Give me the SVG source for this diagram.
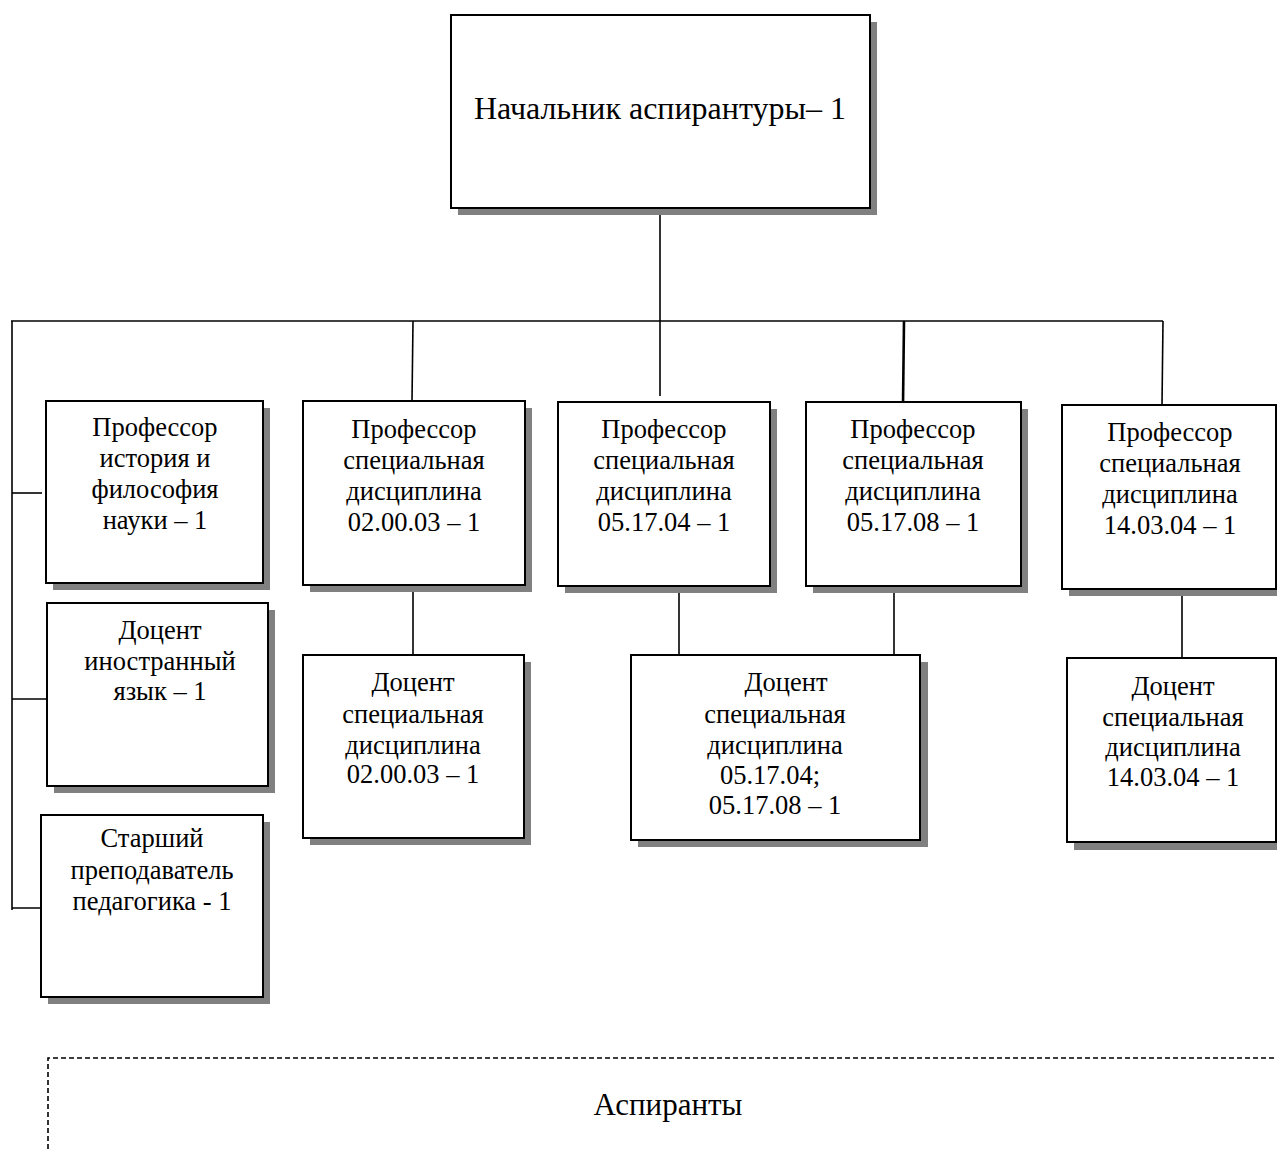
<svg xmlns="http://www.w3.org/2000/svg" width="1277" height="1149" viewBox="0 0 1277 1149">
<style>
.box{fill:#fff;stroke:#000;stroke-width:2}
.sh{fill:#808080}
.t{font-family:"Liberation Serif","Times New Roman",serif;font-size:26.5px;fill:#000;text-anchor:middle}
.title{font-size:32px}
.ln{stroke:#000;stroke-width:1.6;fill:none}
.dash{stroke:#000;stroke-width:1.6;fill:none;stroke-dasharray:5 3}
</style>
<rect width="1277" height="1149" fill="#fff"/>
<g id="connectors">
<line class="ln" x1="660" y1="208" x2="660" y2="396"/>
<line class="ln" x1="11" y1="321" x2="1163" y2="321"/>
<line class="ln" x1="12" y1="321" x2="12" y2="910"/>
<line class="ln" x1="12" y1="493" x2="42" y2="493"/>
<line class="ln" x1="12" y1="699" x2="47" y2="699"/>
<line class="ln" x1="12" y1="908" x2="48" y2="908"/>
<line class="ln" x1="413" y1="321" x2="412" y2="401"/>
<line class="ln" x1="413" y1="585" x2="413" y2="655"/>
<line class="ln" x1="904" y1="321" x2="903" y2="405" style="stroke-width:2.6"/>
<line class="ln" x1="1163" y1="321" x2="1162" y2="405"/>
<line class="ln" x1="679" y1="588" x2="679" y2="659"/>
<line class="ln" x1="894" y1="588" x2="894" y2="659"/>
<line class="ln" x1="1182" y1="590" x2="1182" y2="657"/>
</g>
<g id="n-head">
<rect class="sh" x="458" y="22" width="419" height="193"/>
<rect class="box" x="451" y="15" width="419" height="193"/>
<text class="t title" x="660" y="119">Начальник аспирантуры– 1</text>
</g>
<g id="n-prof-hist">
<rect class="sh" x="53" y="408" width="217" height="182"/>
<rect class="box" x="46" y="401" width="217" height="182"/>
<text class="t" x="155"><tspan x="155" y="436">Профессор</tspan><tspan x="155" y="467">история и</tspan><tspan x="155" y="498">философия</tspan><tspan x="155" y="529">науки – 1</tspan></text>
</g>
<g id="n-doc-lang">
<rect class="sh" x="54" y="610" width="221" height="183"/>
<rect class="box" x="47" y="603" width="221" height="183"/>
<text class="t" x="160"><tspan x="160" y="639">Доцент</tspan><tspan x="160" y="670">иностранный</tspan><tspan x="160" y="700">язык – 1</tspan></text>
</g>
<g id="n-sr-ped">
<rect class="sh" x="48" y="822" width="222" height="182"/>
<rect class="box" x="41" y="815" width="222" height="182"/>
<text class="t" x="152"><tspan x="152" y="847">Старший</tspan><tspan x="152" y="879">преподаватель</tspan><tspan x="152" y="910">педагогика - 1</tspan></text>
</g>
<g id="n-prof-020003">
<rect class="sh" x="310" y="408" width="222" height="184"/>
<rect class="box" x="303" y="401" width="222" height="184"/>
<text class="t" x="414"><tspan x="414" y="438">Профессор</tspan><tspan x="414" y="469">специальная</tspan><tspan x="414" y="500">дисциплина</tspan><tspan x="414" y="531">02.00.03 – 1</tspan></text>
</g>
<g id="n-doc-020003">
<rect class="sh" x="310" y="662" width="221" height="183"/>
<rect class="box" x="303" y="655" width="221" height="183"/>
<text class="t" x="413"><tspan x="413" y="691">Доцент</tspan><tspan x="413" y="723">специальная</tspan><tspan x="413" y="754">дисциплина</tspan><tspan x="413" y="783">02.00.03 – 1</tspan></text>
</g>
<g id="n-prof-051704">
<rect class="sh" x="565" y="409" width="212" height="184"/>
<rect class="box" x="558" y="402" width="212" height="184"/>
<text class="t" x="664"><tspan x="664" y="438">Профессор</tspan><tspan x="664" y="469">специальная</tspan><tspan x="664" y="500">дисциплина</tspan><tspan x="664" y="531">05.17.04 – 1</tspan></text>
</g>
<g id="n-prof-051708">
<rect class="sh" x="813" y="409" width="215" height="184"/>
<rect class="box" x="806" y="402" width="215" height="184"/>
<text class="t" x="913"><tspan x="913" y="438">Профессор</tspan><tspan x="913" y="469">специальная</tspan><tspan x="913" y="500">дисциплина</tspan><tspan x="913" y="531">05.17.08 – 1</tspan></text>
</g>
<g id="n-prof-140304">
<rect class="sh" x="1069" y="412" width="215" height="184"/>
<rect class="box" x="1062" y="405" width="214" height="184"/>
<text class="t" x="1170"><tspan x="1170" y="441">Профессор</tspan><tspan x="1170" y="472">специальная</tspan><tspan x="1170" y="503">дисциплина</tspan><tspan x="1170" y="534">14.03.04 – 1</tspan></text>
</g>
<g id="n-doc-0517">
<rect class="sh" x="638" y="662" width="290" height="185"/>
<rect class="box" x="631" y="655" width="289" height="185"/>
<text class="t" x="775"><tspan x="786" y="691">Доцент</tspan><tspan x="775" y="723">специальная</tspan><tspan x="775" y="754">дисциплина</tspan><tspan x="770" y="784">05.17.04;</tspan><tspan x="775" y="814">05.17.08 – 1</tspan></text>
</g>
<g id="n-doc-140304">
<rect class="sh" x="1074" y="665" width="215" height="185"/>
<rect class="box" x="1067" y="658" width="209" height="184"/>
<text class="t" x="1173"><tspan x="1173" y="695">Доцент</tspan><tspan x="1173" y="726">специальная</tspan><tspan x="1173" y="756">дисциплина</tspan><tspan x="1173" y="786">14.03.04 – 1</tspan></text>
</g>
<g id="n-aspirants">
<path class="dash" d="M48 1149 V1058 H1290"/>
<text class="t" x="668" y="1115" style="font-size:31px">Аспиранты</text>
</g>
</svg>
